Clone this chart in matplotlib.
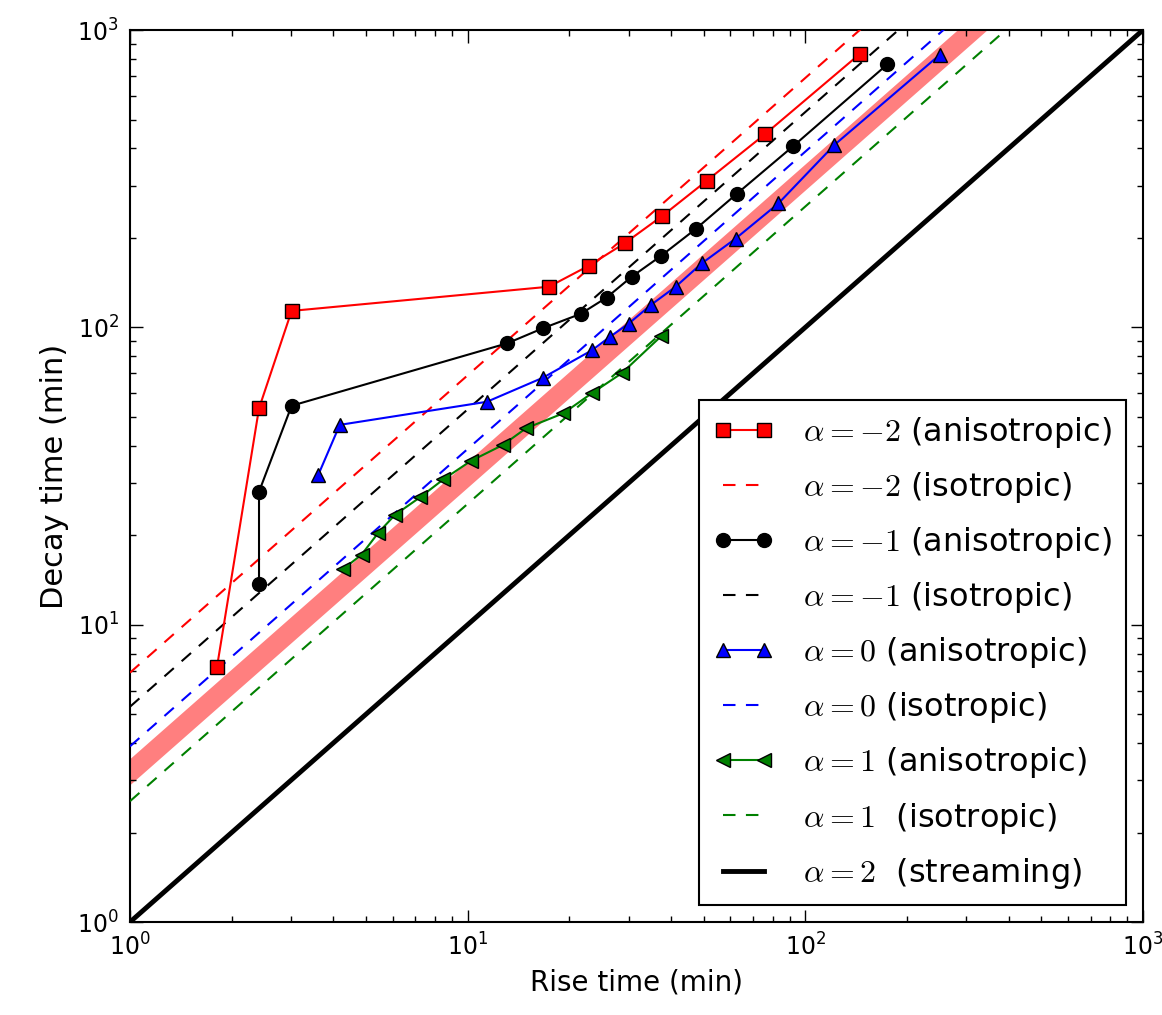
import matplotlib
matplotlib.use("Agg")
import matplotlib.pyplot as plt

plt.rcParams['mathtext.fontset'] = 'cm'
plt.rcParams['font.family'] = ['DejaVu Sans']

# ---- data ----
# alpha = -2, anisotropic
rise_m2 = [1.81, 2.41, 3.01, 17.4, 22.8, 29.2, 37.7, 51.0, 75.9, 145]
decay_m2 = [7.22, 53.4, 113.6, 137, 161, 192, 237, 311, 446, 831]

# alpha = -1, anisotropic
rise_m1 = [2.41, 2.41, 3.01, 13.1, 16.7, 21.6, 25.8, 30.6, 37.4, 47.3, 62.6, 92.1, 175]
decay_m1 = [13.7, 28.0, 54.5, 88.4, 99.3, 111, 126, 148, 174, 214, 281, 407, 767]

# alpha = 0, anisotropic
rise_0 = [3.61, 4.18, 11.4, 16.7, 23.4, 26.4, 30.0, 34.9, 41.3, 49.3, 62.2, 83.2, 122, 250]
decay_0 = [31.9, 47, 56.2, 67.7, 83.9, 93, 103, 119, 137, 164, 199, 261, 411, 825]

# alpha = 1, anisotropic
rise_1 = [4.28, 4.85, 5.44, 6.09, 7.22, 8.47, 10.2, 12.7, 14.9, 19.2, 23.3, 28.6, 37.5]
decay_1 = [15.4, 17.2, 20.4, 23.4, 26.8, 30.8, 35.5, 40.2, 45.8, 51.4, 60, 70.1, 93.6]

# isotropic: decay = coef * rise
iso_alpha = [-2, -1, 0, 1]
iso_coef = [6.9, 5.3, 3.9, 2.55]
iso_colors = ['red', 'black', 'blue', 'green']

# shaded band (decay / rise ratio range)
band_low = 2.9
band_high = 3.55

# streaming: decay = rise
x_range = [1, 1000]


def plot_times():
    fig = plt.figure(figsize=(11.62, 10.15), dpi=100)
    ax = fig.add_subplot(111)
    fig.subplots_adjust(left=0.1119, right=0.9836, top=0.9704, bottom=0.0916)

    ###############band################
    ax.fill_between(x_range, [band_low * x for x in x_range], [band_high * x for x in x_range],
                    color='red', alpha=0.5, lw=0, zorder=1)

    ###############curves################
    dash = (0, (6, 5))
    ms = 10
    ax.plot(rise_m2, decay_m2, '-', color='red', marker='s', ms=ms, mec='black', mew=1, lw=1.5,
            label=r'$\alpha=-2$ (anisotropic)', zorder=5)
    ax.plot(x_range, [iso_coef[0] * x for x in x_range], color=iso_colors[0], ls=dash, lw=1.5,
            label=r'$\alpha=-2$ (isotropic)', zorder=3)
    ax.plot(rise_m1, decay_m1, '-', color='black', marker='o', ms=ms, mec='black', mew=1, lw=1.5,
            label=r'$\alpha=-1$ (anisotropic)', zorder=5)
    ax.plot(x_range, [iso_coef[1] * x for x in x_range], color=iso_colors[1], ls=dash, lw=1.5,
            label=r'$\alpha=-1$ (isotropic)', zorder=3)
    ax.plot(rise_0, decay_0, '-', color='blue', marker='^', ms=ms, mec='black', mew=1, lw=1.5,
            label=r'$\alpha=0$ (anisotropic)', zorder=5)
    ax.plot(x_range, [iso_coef[2] * x for x in x_range], color=iso_colors[2], ls=dash, lw=1.5,
            label=r'$\alpha=0$ (isotropic)', zorder=3)
    ax.plot(rise_1, decay_1, '-', color='green', marker='<', ms=ms, mec='black', mew=1, lw=1.5,
            label=r'$\alpha=1$ (anisotropic)', zorder=5)
    ax.plot(x_range, [iso_coef[3] * x for x in x_range], color=iso_colors[3], ls=dash, lw=1.5,
            label=r'$\alpha=1$  (isotropic)', zorder=3)
    ax.plot(x_range, x_range, color='black', lw=3.5,
            label=r'$\alpha=2$  (streaming)', zorder=4)

    ##############axis setting###############
    ax.set_xscale('log')
    ax.set_yscale('log')
    ax.set_xlim(1, 1000)
    ax.set_ylim(1, 1000)
    ax.tick_params(which='both', direction='in', top=True, right=True, labelsize=17, pad=8)
    ax.tick_params(which='major', length=9, width=1)
    ax.tick_params(which='minor', length=4.5, width=1)
    for s in ax.spines.values():
        s.set_linewidth(1.5)
    ax.set_xlabel('Rise time (min)', fontsize=20, labelpad=6)
    ax.set_ylabel('Decay time (min)', fontsize=22, labelpad=6)

    leg = ax.legend(loc='lower right', bbox_to_anchor=(0.983, 0.019), borderaxespad=0,
                    fontsize=23, numpoints=2, handlelength=1.9, handletextpad=0.9,
                    labelspacing=0.63, borderpad=0.45, fancybox=False, framealpha=1)
    leg.get_frame().set_edgecolor('black')
    leg.get_frame().set_linewidth(1.5)

    plt.savefig('out.png', dpi=100)


if __name__ == "__main__":
    plot_times()
